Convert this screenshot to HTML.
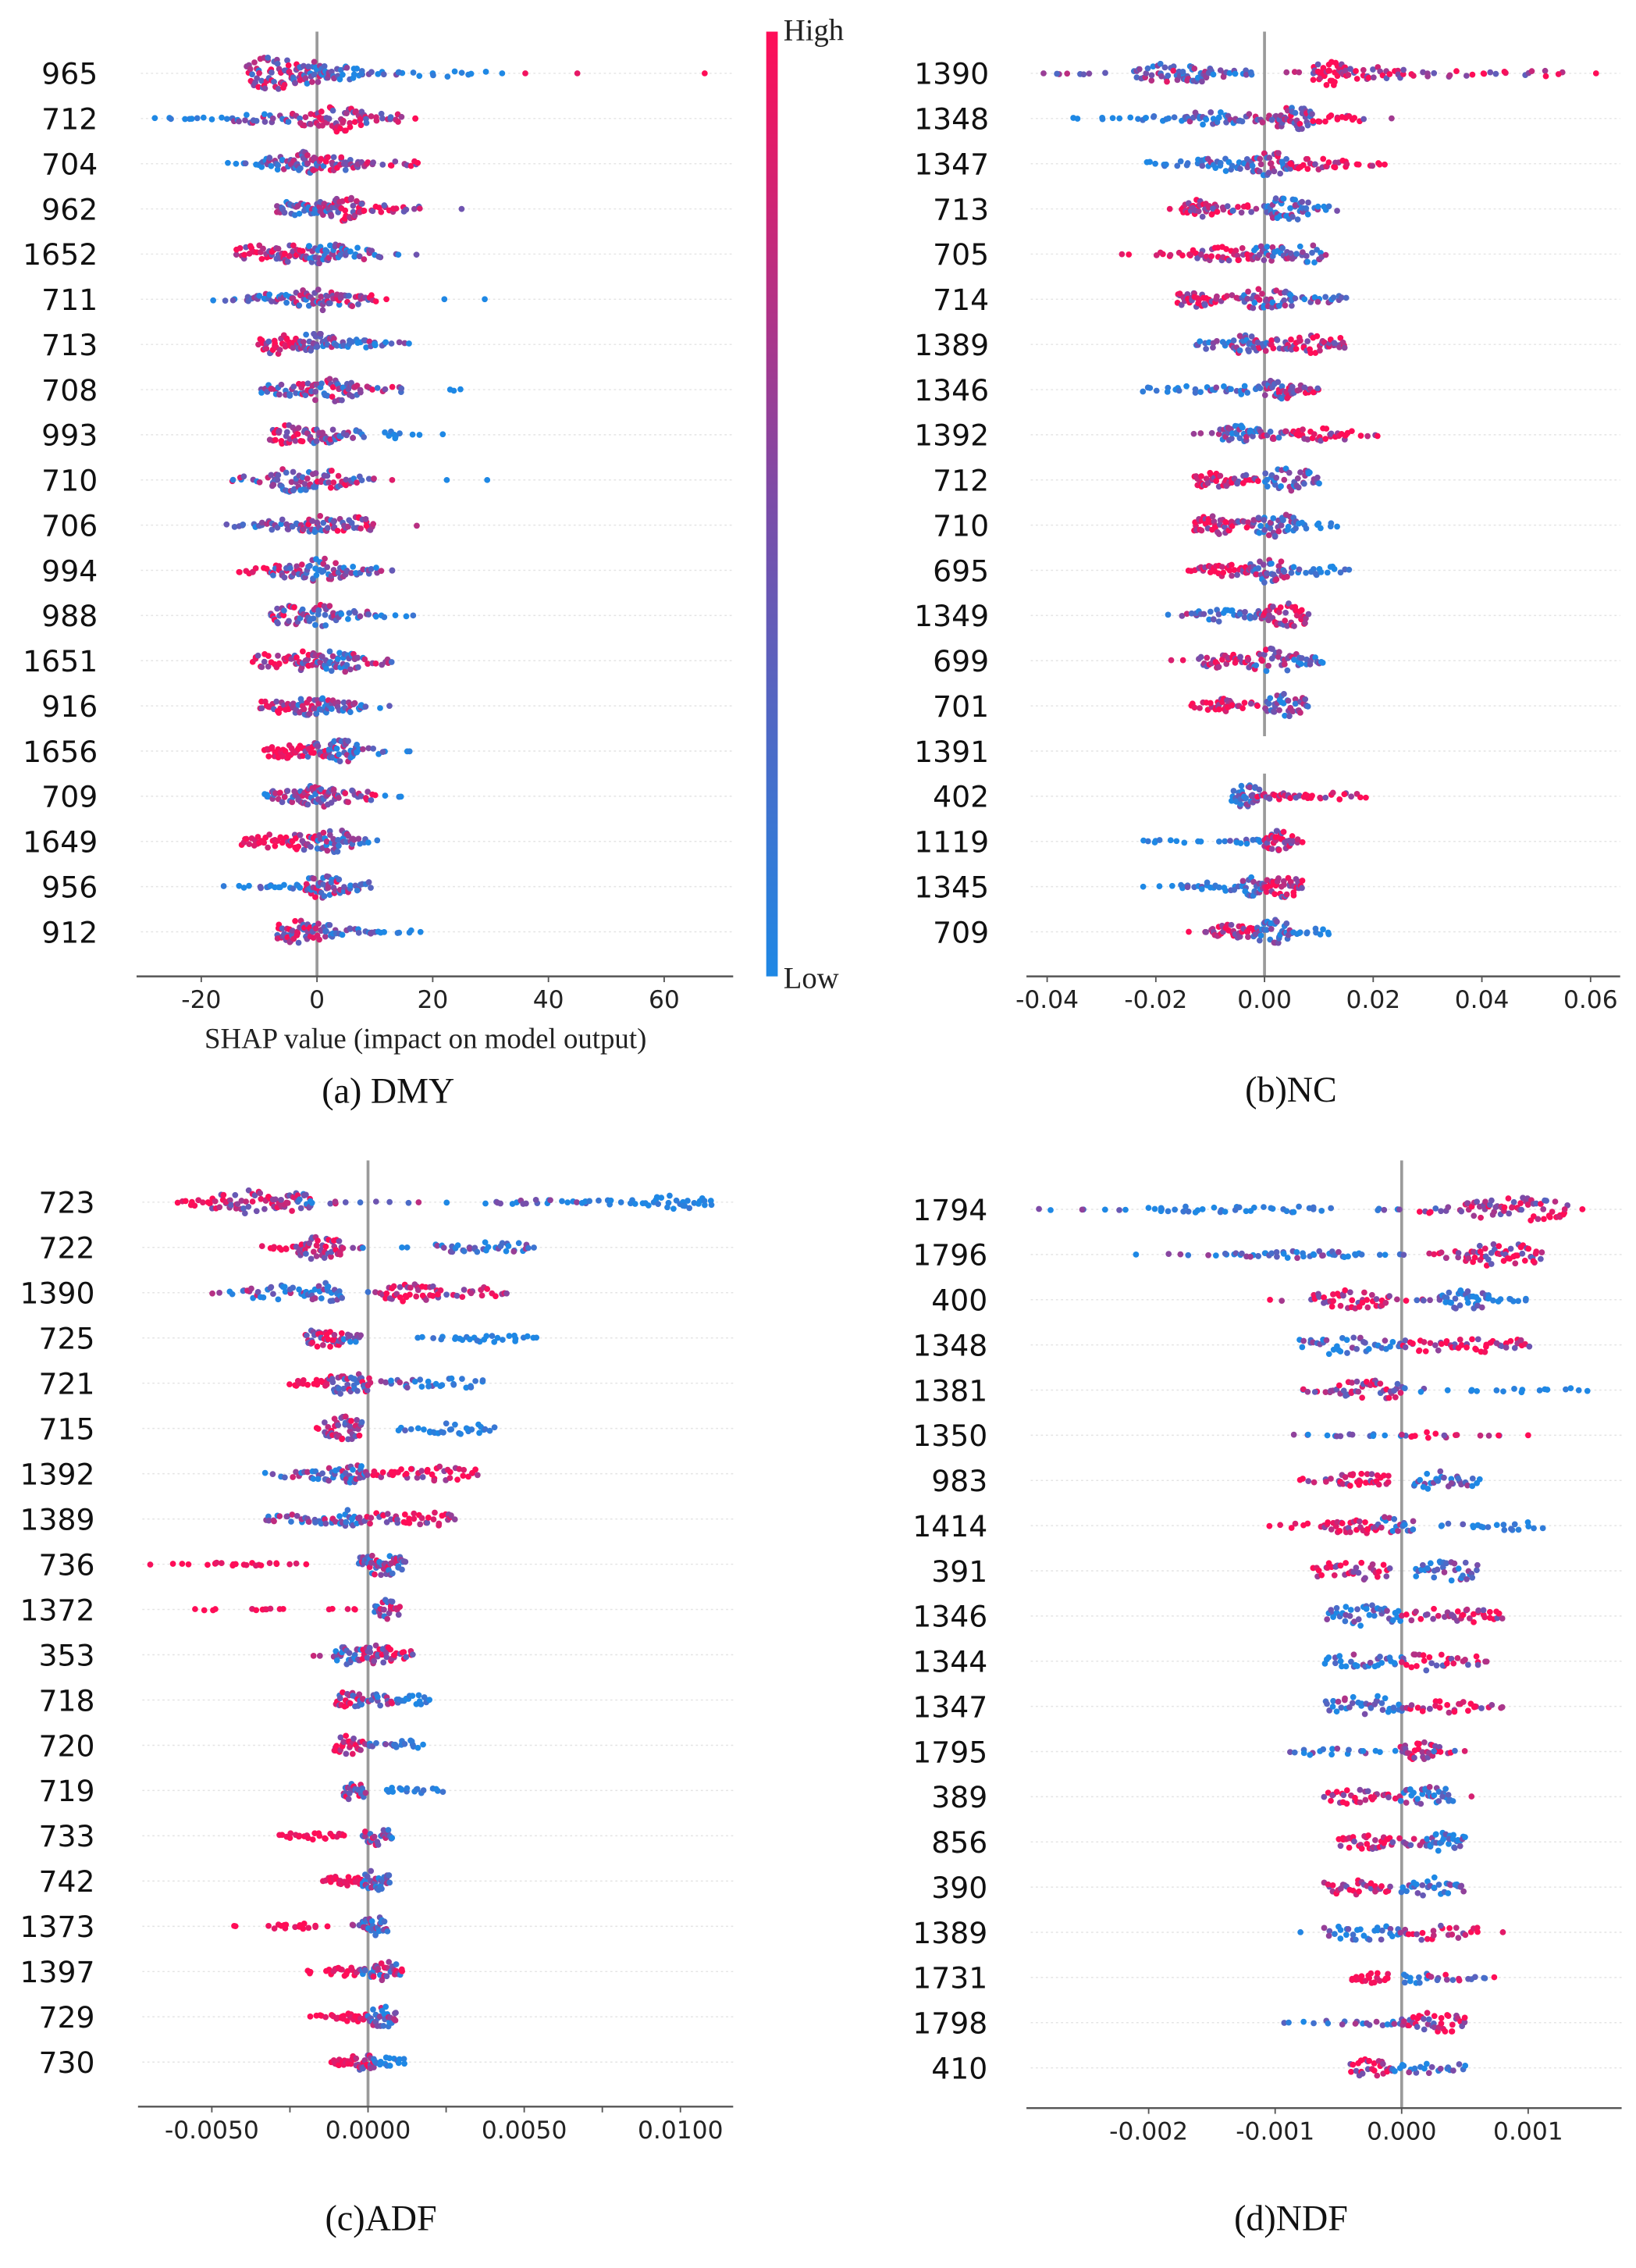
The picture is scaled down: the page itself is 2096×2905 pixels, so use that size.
<!DOCTYPE html>
<html><head><meta charset="utf-8"><style>
html,body{margin:0;padding:0;background:#fff;}
svg{display:block;}
</style></head><body>
<svg id="fig" xmlns="http://www.w3.org/2000/svg" width="2096" height="2905" viewBox="0 0 1138 1577.2" preserveAspectRatio="none">
<defs>
<linearGradient id="cbar" x1="0" y1="0" x2="0" y2="1">
<stop offset="0" stop-color="#ff0d57"/><stop offset="0.5" stop-color="#7b4ca8"/><stop offset="1" stop-color="#1e88e5"/>
</linearGradient>
</defs>
<g id="colorbar">
<rect x="533" y="22" width="8" height="657" fill="url(#cbar)"/>
<text x="545" y="28" font-family="Liberation Serif, serif" font-size="21" fill="#222">High</text>
<text x="545" y="687" font-family="Liberation Serif, serif" font-size="21" fill="#222">Low</text>
</g>
</svg>
<script>
// ---- data: segments [lo, hi, count, colorMix(0 blue..1 red), spread] ----
const dmyFeatures = ["965","712","704","962","1652","711","713","708","993","710","706","994","988","1651","916","1656","709","1649","956","912"];
const dmyTicks = [-20,0,20,40,60];
const dmyTickLabels = ["-20","0","20","40","60"];
const dmySegments = [
[[-12,-3,60,0.6,7],[-3,2,35,0.4,5],[2,8,20,0.3,3],[8,14,8,0.1,1],[14,28,12,0,1.5],[32,32,1,0,0],[36,36,1,1,0],[45,45,1,1,0],[67,67,1,1,0]],
[[-27,-15,12,0,0.5],[-15,-5,20,0.3,2],[-5,0,15,0.5,3],[0,8,45,0.75,6],[8,15,15,0.6,2.5],[17,17,2,1,0.5]],
[[-15,-10,6,0.1,1],[-10,-4,25,0.3,3],[-4,0,30,0.4,5],[0,7,30,0.6,3],[7,10,8,0.7,1.5],[12,18,10,0.7,1.5]],
[[-7,-2,25,0.3,3],[-2,2,25,0.4,3],[2,8,40,0.8,5],[8,15,15,0.8,2],[15,19,4,0.6,1],[25,25,1,0.5,0]],
[[-14,-8,20,0.9,4],[-8,-2,30,0.8,4],[-2,5,40,0.35,5],[5,11,15,0.3,3],[13,17,3,0.4,0.5]],
[[-17,-12,6,0.1,1],[-12,-4,25,0.3,2.5],[-4,4,40,0.5,5],[4,10,20,0.7,3],[12,12,1,1,0],[22,22,1,0,0],[29,29,1,0,0]],
[[-10,-3,35,0.8,4],[-3,3,35,0.4,5],[3,10,20,0.3,2],[10,16,8,0.1,1]],
[[-10,-3,20,0.3,3],[-3,7,55,0.55,5],[7,15,12,0.5,2],[23,25,3,0,0.5]],
[[-8,-2,30,0.8,4],[-2,4,30,0.5,4],[4,8,12,0.3,2],[12,14,8,0,2],[16,20,3,0,0.5]],
[[-15,-8,10,0.4,1.5],[-8,0,40,0.4,5],[0,6,25,0.6,4],[6,10,8,0.4,1.5],[13,13,1,1,0],[25,29,2,0,0]],
[[-15,-10,8,0.1,1],[-10,-3,20,0.3,2.5],[-3,3,30,0.55,4],[3,10,25,0.7,3.5],[12,17,2,0.8,0.5]],
[[-14,-8,10,0.95,1.5],[-8,-3,20,0.6,3],[-3,5,40,0.45,5],[5,11,15,0.3,2],[13,13,2,0.4,0.5]],
[[-8,-2,30,0.6,4],[-2,4,30,0.5,4.5],[4,10,12,0.3,2],[10,16,6,0.1,1]],
[[-11,-5,20,0.9,3],[-5,0,25,0.7,4],[0,7,40,0.4,5],[7,13,12,0.5,2]],
[[-10,-4,20,0.7,3],[-4,2,35,0.5,5],[2,8,25,0.35,3],[8,12,4,0.2,1]],
[[-9,-3,30,0.95,3],[-3,2,25,0.7,4],[2,7,35,0.35,5],[7,12,8,0.3,1.5],[15,16,2,0.3,0.5]],
[[-9,-3,25,0.4,3],[-3,3,40,0.5,5],[3,10,20,0.75,2.5],[13,16,3,0,0.5]],
[[-13,-5,25,0.95,3],[-5,0,25,0.8,3.5],[0,6,35,0.4,5],[6,10,8,0.3,1.5]],
[[-16,-10,5,0,0.5],[-10,-2,15,0.1,1],[-2,4,40,0.5,5],[4,9,15,0.45,3]],
[[-7,-1,40,0.7,5],[-1,3,20,0.5,4],[3,10,15,0.1,1.5],[10,18,8,0,0.8]]
];

const ncFeatures = ["1390","1348","1347","713","705","714","1389","1346","1392","712","710","695","1349","699","701","1391","402","1119","1345","709"];
const ncTicks = [-40,-20,0,20,40,60];
const ncTickLabels = ["-0.04","-0.02","0.00","0.02","0.04","0.06"];
const ncSegments = [
[[-40,-30,8,0.5,0.5],[-24,-15,30,0.45,4],[-15,-10,25,0.3,4],[-10,-2,15,0.3,2],[3,9,5,0.5,0.8],[9,15,35,0.85,5],[15,26,25,0.8,3],[26,40,12,0.85,1.5],[40,55,12,0.8,1.5],[61,61,1,0.7,0]],
[[-35,-25,6,0,0.5],[-25,-15,12,0.05,1],[-15,-5,30,0.2,3],[-5,2,15,0.4,2],[2,9,40,0.6,5],[9,18,15,0.85,2],[21,26,2,0.9,0.5]],
[[-22,-12,12,0.05,1.5],[-12,-3,25,0.2,3],[-3,5,40,0.5,5],[5,15,25,0.8,2.5],[15,23,8,0.9,1]],
[[-19,-15,3,1,0.5],[-15,-9,30,0.9,4],[-9,-2,15,0.7,2],[0,8,45,0.25,5],[8,13,8,0.2,1.5]],
[[-26,-25,2,1,0.5],[-20,-13,10,0.95,1],[-13,-2,35,0.85,3],[-2,5,30,0.4,4],[5,11,20,0.25,4]],
[[-16,-10,30,0.85,3.5],[-10,-5,10,0.8,2],[-4,5,40,0.45,5],[5,15,20,0.2,2]],
[[-13,-6,15,0.2,2],[-6,-1,30,0.45,4],[-1,4,15,0.55,3],[4,15,40,0.8,4]],
[[-22,-10,15,0.05,1.5],[-10,0,20,0.2,2],[0,5,30,0.55,5],[5,10,15,0.8,2]],
[[-12,-8,4,0.4,0.8],[-8,-1,35,0.35,4],[-1,5,15,0.6,2],[5,16,30,0.9,3],[18,21,4,0.9,1]],
[[-13,-6,30,0.9,3.5],[-6,-1,15,0.85,2],[0,10,40,0.25,5]],
[[-13,-6,35,0.9,4],[-6,-2,10,0.7,2],[-2,6,40,0.35,5],[6,13,10,0.05,1.5]],
[[-16,-12,3,1,0.5],[-12,-3,30,0.9,2.5],[-3,4,35,0.5,5],[4,15,20,0.1,2]],
[[-18,-13,4,0.3,1],[-13,-3,25,0.1,2.5],[-3,0,10,0.2,2],[0,8,40,0.8,5]],
[[-15,-12,2,1,0.5],[-12,-3,30,0.85,3],[-3,6,35,0.5,5],[6,11,15,0.1,2]],
[[-14,-9,10,0.9,2],[-9,-6,20,0.85,3],[-6,-1,10,0.8,1.5],[0,8,40,0.3,5]],
[],
[[-6,-1,40,0.2,5],[-1,8,25,0.85,1.5],[8,18,15,0.9,1.5]],
[[-23,-15,8,0,1],[-12,-8,4,0,0.5],[-6,0,12,0.1,1],[0,5,35,0.85,4.5],[5,7,5,0.9,1]],
[[-21,-15,5,0.05,0.8],[-15,-4,20,0.1,2],[-4,0,20,0.3,4],[0,7,40,0.8,4.5]],
[[-13,-10,3,0.9,0.5],[-10,-2,35,0.9,3],[-2,5,40,0.35,5],[5,12,12,0.05,1.5]]
];

const adfFeatures = ["723","722","1390","725","721","715","1392","1389","736","1372","353","718","720","719","733","742","1373","1397","729","730"];
const adfTicks = [-50,0,50,100];
const adfTickLabels = ["-0.0050","0.0000","0.0050","0.0100"];
const adfSegments = [
[[-61,-50,10,1,2],[-50,-30,40,0.75,5],[-30,-18,30,0.55,4],[-18,-10,5,0.4,1],[-5,5,4,0.3,0.5],[12,28,3,0.3,0.5],[38,70,20,0.15,1],[70,90,12,0.05,1],[90,110,25,0,3]],
[[-33,-23,10,1,1],[-23,-8,45,0.75,5],[-5,0,4,0.4,0.5],[10,15,2,0.3,0],[22,53,35,0.2,2.5]],
[[-50,-40,5,0.4,1],[-40,-20,25,0.35,3],[-20,-8,25,0.2,4],[-2,5,3,0.5,0.5],[5,22,35,0.9,4],[22,45,20,0.8,2.5]],
[[-20,-8,35,0.8,4],[-8,-2,12,0.4,2],[16,30,8,0.05,1],[30,53,20,0,2]],
[[-25,-13,15,0.95,2],[-13,1,40,0.6,5],[5,20,15,0.2,2],[20,37,15,0.05,2.5]],
[[-17,-14,2,1,0.5],[-14,-2,40,0.7,5],[9,18,5,0.1,1],[18,40,25,0.05,2.5]],
[[-33,-20,8,0.35,1.5],[-20,-8,20,0.4,3],[-8,-1,25,0.3,4],[-1,8,10,0.8,1.5],[8,35,35,0.9,3]],
[[-33,-20,15,0.4,2],[-20,-9,15,0.4,2],[-9,-3,15,0.25,4],[-2,10,15,0.8,3],[10,28,25,0.85,3]],
[[-67,-50,5,1,0.5],[-50,-30,15,1,1],[-30,-22,4,1,0.5],[-3,12,50,0.5,5]],
[[-55,-48,4,1,0.5],[-38,-28,8,1,0.5],[-12,-4,5,1,0.3],[2,10,25,0.55,4]],
[[-16,-10,4,0.4,1],[-10,-2,25,0.3,4],[-2,8,30,0.8,4],[8,15,10,0.8,2]],
[[-10,-2,25,0.6,4],[-2,10,20,0.5,2.5],[10,20,15,0.05,2]],
[[-11,-2,25,0.7,4],[-2,8,10,0.3,1],[8,17,12,0.05,2]],
[[-8,-1,25,0.6,4.5],[5,23,18,0.05,1.5]],
[[-28,-7,25,1,1.5],[-2,8,30,0.45,4]],
[[-14,-2,25,0.95,2],[-2,7,30,0.35,4.5]],
[[-44,-41,2,1,0.5],[-32,-16,15,1,1.5],[-13,-12,1,1,0],[-6,-2,4,0.8,1],[-2,6,30,0.35,4]],
[[-20,-18,3,1,1],[-13,-3,20,0.95,2],[-3,3,10,0.3,2],[1,11,30,0.5,4]],
[[-19,-10,8,1,1],[-10,0,25,0.95,2],[0,9,30,0.4,4.5]],
[[-12,-5,15,0.95,1.5],[-5,2,25,0.65,4],[2,12,15,0.05,2]]
];

const ndfFeatures = ["1794","1796","400","1348","1381","1350","983","1414","391","1346","1344","1347","1795","389","856","390","1389","1731","1798","410"];
const ndfTicks = [-20,-10,0,10];
const ndfTickLabels = ["-0.002","-0.001","0.000","0.001"];
const ndfSegments = [
[[-28,-20,8,0.2,0.5],[-20,-6,35,0.05,1.5],[-2,0,5,0.1,0.5],[1,5,10,0.7,2],[5,13,60,0.8,5],[13,14,2,0.8,0.5]],
[[-21,-20,1,0.4,0],[-18,-13,8,0.3,1],[-13,-3,40,0.15,1.5],[-2,0,4,0.1,0.3],[2,5,10,0.7,1.5],[5,11,50,0.75,5]],
[[-10,-8,3,0.8,0.5],[-7,-1,40,0.9,4],[0,3,8,0.7,1],[3,7,35,0.1,4],[7,10,10,0.05,1]],
[[-8,-2,30,0.15,4],[-2,0,10,0.1,2],[0,4,20,0.75,3],[4,10,30,0.85,3]],
[[-8,-5,10,0.5,1],[-5,0,35,0.75,4.5],[0,3,5,0.2,1],[5,15,15,0,1]],
[[-8,0,15,0.15,0.5],[0,4,10,0.9,1.5],[4,8,6,0.8,0.3],[10,10,1,0.8,0]],
[[-8,-5,8,0.8,1],[-5,-1,30,0.85,3.5],[1,6,30,0.15,4]],
[[-10,-6,8,1,1],[-6,-2,30,0.9,4],[-2,1,20,0.35,4],[3,6,6,0.1,1.2],[6,11,15,0.05,2.5]],
[[-7,-1,35,0.85,4],[1,6,35,0.15,4.5]],
[[-6,0,40,0.1,4.5],[0,4,15,0.75,3],[4,8,25,0.85,3]],
[[-6,0,30,0.2,3],[0,4,20,0.75,4],[4,7,10,0.8,2]],
[[-6,0,35,0.2,5],[0,6,25,0.85,3],[6,8,6,0.85,1]],
[[-9,-3,15,0.1,1.5],[-3,0,5,0.2,0.5],[0,3,30,0.9,4],[3,5,5,0.6,1]],
[[-6,-2,25,0.9,3],[-2,0,8,0.8,1],[0,4,35,0.25,4.5],[4,5,2,0.5,0.5]],
[[-5,-1,30,0.9,3],[-1,2,12,0.6,2],[2,5,30,0.2,4.5]],
[[-6,-1,30,0.8,3.5],[0,5,30,0.15,4]],
[[-8,-7,1,0.4,0],[-6,0,30,0.2,3.5],[0,6,25,0.85,3.5],[8,9,1,1,0]],
[[-4,-1,20,0.95,2.5],[0,2,10,0.05,4],[2,7,15,0.7,1.5]],
[[-9,-3,10,0.25,1],[-3,0,10,0.2,1.5],[0,5,40,0.75,4.5]],
[[-4,-1,25,0.85,4],[-1,5,25,0.15,2.5]]
];

// ---- layout ----
const panels = [
 {id:"dmy", feats:dmyFeatures, segs:dmySegments, ticks:dmyTicks, tl:dmyTickLabels, zero:220.5, k:4.025, ax0:95, ax1:510, rowTop:51, rowBot:648, axisY:679, lineTop:22, labelX:68, xlabel:"SHAP value (impact on model output)", title:"(a) DMY", titleX:270, titleY:767, gap:null},
 {id:"nc", feats:ncFeatures, segs:ncSegments, ticks:ncTicks, tl:ncTickLabels, zero:879.6, k:3.78, ax0:714, ax1:1127, rowTop:51, rowBot:648, axisY:679, lineTop:22, labelX:688, xlabel:null, title:"(b)NC", titleX:898, titleY:766, gap:[512,538]},
 {id:"adf", feats:adfFeatures, segs:adfSegments, ticks:adfTicks, tl:adfTickLabels, zero:256, k:2.173, ax0:96, ax1:510, rowTop:836, rowBot:1434, axisY:1465, lineTop:807, labelX:66, xlabel:null, title:"(c)ADF", titleX:265, titleY:1551, gap:null, minor:[-25,25,75]},
 {id:"ndf", feats:ndfFeatures, segs:ndfSegments, ticks:ndfTicks, tl:ndfTickLabels, zero:975, k:8.8, ax0:714, ax1:1128, rowTop:841, rowBot:1438, axisY:1466, lineTop:807, labelX:687, xlabel:null, title:"(d)NDF", titleX:898, titleY:1551, gap:null}
];
const NS="http://www.w3.org/2000/svg";
const svg=document.getElementById('fig');
function mk(tag,attrs,parent){const e=document.createElementNS(NS,tag);for(const a in attrs)e.setAttribute(a,attrs[a]);parent.appendChild(e);return e;}
const cB=[30,136,229],cP=[123,76,168],cR=[255,13,87];
function col(t){t=Math.max(0,Math.min(1,t));let a,b,u;if(t<0.5){a=cB;b=cP;u=t/0.5;}else{a=cP;b=cR;u=(t-0.5)/0.5;}
 return 'rgb('+a.map((v,i)=>Math.round(v+(b[i]-v)*u)).join(',')+')';}
// deterministic hash to scatter dots (layout only, not data)
function hsh(a,b){let x=(a*374761393+b*668265263)>>>0;x=((x^(x>>>13))*1274126177)>>>0;x=(x^(x>>>16))>>>0;return (x%10007)/10007;}

panels.forEach((p,pi)=>{
 const g=mk('g',{},svg);
 
 
 const xs=v=>p.zero+v*p.k;
 const step=(p.rowBot-p.rowTop)/(p.feats.length-1);
 const ys=i=>p.rowTop+i*step;
 p.feats.forEach((f,i)=>{
  const gl=mk('line',{x1:p.ax0+3,x2:p.ax1,y1:ys(i),y2:ys(i),stroke:'#e4e4e4','stroke-width':0.8,'stroke-dasharray':'1.5,2'},g);
  
  
 });
 const segsL=p.gap?[[p.lineTop,p.gap[0]],[p.gap[1],p.axisY]]:[[p.lineTop,p.axisY]];
 segsL.forEach(s=>{const zl=mk('line',{x1:xs(0),x2:xs(0),y1:s[0],y2:s[1],stroke:'#9a9a9a','stroke-width':2},g);
  
  });
 p.feats.forEach((f,i)=>{
  const rg=mk('g',{},g);
  
  
  let idx=0;
  const seed=pi*1000+i*37;
  p.segs[i].forEach(s=>{
   const [lo,hi,n,c,h]=s;
   const dx=n>1?(hi-lo)/(n-1):0;
   for(let j=0;j<n;j++){
    const u1=hsh(seed,idx),u2=hsh(seed+1,idx),u3=hsh(seed+2,idx);
    const v=n===1?lo:lo+dx*j+dx*(u1-0.5)*2;
    const tpos=n>1?j/(n-1):0.5;
    const env=0.55+0.45*Math.sin(Math.PI*tpos);
    const dy=(u2*2-1)*h*1.7*env;
    const cc=c+(u3-0.5)*(c>0.05&&c<0.95?1:0.3);
    const d=mk('circle',{cx:xs(v).toFixed(1),cy:(ys(i)+dy).toFixed(1),r:2.1,fill:col(cc)},rg);
    
    
    idx++;
   }
  });
  const t=mk('text',{x:p.labelX,y:ys(i)+7.5,'text-anchor':'end','font-family':'DejaVu Sans, Liberation Sans, sans-serif','font-size':20.5,fill:'#111'},g);
  t.textContent=f;
  
  
 });
 const ax=mk('line',{x1:p.ax0,x2:p.ax1,y1:p.axisY,y2:p.axisY,stroke:'#555','stroke-width':1.3},g);
 
 
 p.ticks.forEach((tv,j)=>{
  const tk=mk('line',{x1:xs(tv),x2:xs(tv),y1:p.axisY,y2:p.axisY+4,stroke:'#555','stroke-width':1},g);
  
  
  const tt=mk('text',{x:xs(tv),y:p.axisY+22,'text-anchor':'middle','font-family':'DejaVu Sans, Liberation Sans, sans-serif','font-size':17,fill:'#222'},g);
  tt.textContent=p.tl[j];
  
  
 });
 (p.minor||[]).forEach(tv=>{
  const tk=mk('line',{x1:xs(tv),x2:xs(tv),y1:p.axisY,y2:p.axisY+4,stroke:'#555','stroke-width':1},g);
  
  
 });
 if(p.xlabel){
  const xl=mk('text',{x:296,y:729,'text-anchor':'middle','font-family':'Liberation Serif, serif','font-size':20,fill:'#222'},g);
  xl.textContent=p.xlabel;
  
  
 }
 const ti=mk('text',{x:p.titleX,y:p.titleY,'text-anchor':'middle','font-family':'Liberation Serif, serif','font-size':25,fill:'#111'},g);
 ti.textContent=p.title;
 
 
});
</script>
</body></html>
